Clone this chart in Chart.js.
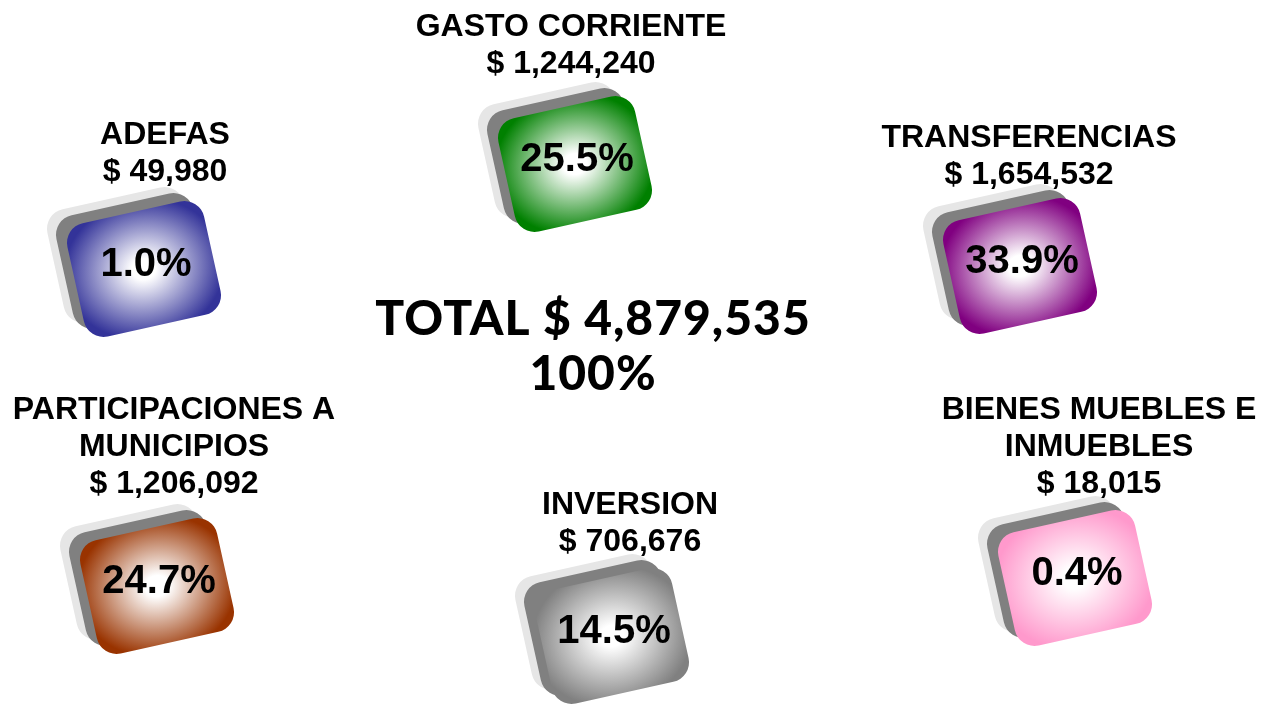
<!DOCTYPE html>
<html>
<head>
<meta charset="utf-8">
<script src="https://cdn.jsdelivr.net/npm/chart.js@4.4.0/dist/chart.umd.min.js"></script>
<style>
body{margin:0;background:#fff;}
canvas{display:block;}
</style>
</head>
<body>
<canvas id="myChart" width="1274" height="709"></canvas>
<script>
// data
var categories = [["GASTO CORRIENTE"], ["TRANSFERENCIAS"], ["BIENES MUEBLES E", "INMUEBLES"], ["INVERSION"], ["PARTICIPACIONES A", "MUNICIPIOS"], ["ADEFAS"]];
var amounts = [1244240, 1654532, 18015, 706676, 1206092, 49980];
var percents = [25.5, 33.9, 0.4, 14.5, 24.7, 1.0];
var total_amount = 4879535;
var total_percent = 100;

// layout / style
var tile_colors = ["#008000", "#800080", "#ff99cc", "#808080", "#993300", "#333399"];
var tile_x = [575, 1020, 1075, 612, 157, 144];
var tile_y = [164, 266, 578, 636, 586, 269];
var label_x = [571, 1029, 1099, 630, 174, 165];
var label_y = [62, 173, 482, 540, 482, 170];

function money(n){
    return "$ " + n.toLocaleString("en-US");
}

function roundRectPath(ctx, x, y, w, h, r){
    ctx.beginPath();
    ctx.moveTo(x + r, y);
    ctx.lineTo(x + w - r, y);
    ctx.arcTo(x + w, y, x + w, y + r, r);
    ctx.lineTo(x + w, y + h - r);
    ctx.arcTo(x + w, y + h, x + w - r, y + h, r);
    ctx.lineTo(x + r, y + h);
    ctx.arcTo(x, y + h, x, y + h - r, r);
    ctx.lineTo(x, y + r);
    ctx.arcTo(x, y, x + r, y, r);
    ctx.closePath();
}

function makeTile(color){
    var c = document.createElement("canvas");
    c.width = 260;
    c.height = 230;
    var ctx = c.getContext("2d");
    var cx = c.width / 2, cy = c.height / 2;
    var w = 140, h = 116, r = 20;
    var ang = -12.5 * Math.PI / 180;

    var layers = [[-20, -14, "#e6e6e6"], [-11, -8, "#808080"]];
    for(let k=0; k<layers.length; k++){
        ctx.save();
        ctx.translate(cx + layers[k][0], cy + layers[k][1]);
        ctx.rotate(ang);
        roundRectPath(ctx, -w/2, -h/2, w, h, r);
        ctx.fillStyle = layers[k][2];
        ctx.fill();
        ctx.restore();
    }

    ctx.save();
    ctx.translate(cx, cy);
    ctx.rotate(ang);
    roundRectPath(ctx, -w/2, -h/2, w, h, r);
    ctx.scale(1.15, 1);
    var g = ctx.createRadialGradient(0, 0, 0, 0, 0, 70);
    g.addColorStop(0, "#ffffff");
    g.addColorStop(0.15, "#ffffff");
    g.addColorStop(1, color);
    ctx.fillStyle = g;
    ctx.fill();
    ctx.restore();
    return c;
}

var tiles = tile_colors.map(makeTile);
var points = [];
for(let i=0; i<tile_x.length; i++){
    points.push({x: tile_x[i], y: tile_y[i]});
}

var textPlugin = {
    id: "tileText",
    afterDatasetsDraw: function(chart){
        var ctx = chart.ctx;
        var xs = chart.scales.x, ys = chart.scales.y;
        var meta = chart.getDatasetMeta(0);
        ctx.save();
        ctx.fillStyle = "#000";
        ctx.textAlign = "center";
        ctx.textBaseline = "middle";

        for(let i=0; i<meta.data.length; i++){
            var pt = meta.data[i];
            ctx.font = "bold 40px 'Liberation Sans', Arial, sans-serif";
            ctx.fillText(percents[i].toFixed(1) + "%", pt.x + 2, pt.y - 4);

            var lines = categories[i].concat([money(amounts[i])]);
            var lx = xs.getPixelForValue(label_x[i]);
            var ly = ys.getPixelForValue(label_y[i]) + 2;
            ctx.font = "bold 32px 'Liberation Sans', Arial, sans-serif";
            for(let j=0; j<lines.length; j++){
                ctx.fillText(lines[j], lx, ly - (lines.length - 1 - j) * 37);
            }
        }

        ctx.font = "900 48px Lato, 'DejaVu Sans', sans-serif";
        ctx.letterSpacing = "1px";
        var tx = xs.getPixelForValue(593);
        ctx.fillText("TOTAL " + money(total_amount), tx, ys.getPixelForValue(320));
        ctx.fillText(total_percent + "%", tx, ys.getPixelForValue(375));
        ctx.restore();
    }
};

var chart = new Chart("myChart", {
    type: "scatter",
    data: {
        labels: categories.map(function(c){ return c.join(" "); }),
        datasets: [{
            data: points,
            pointStyle: tiles,
            pointRadius: 10,
            clip: false
        }]
    },
    options: {
        responsive: false,
        animation: false,
        layout: {padding: 0, autoPadding: false},
        plugins: {legend: {display: false}, tooltip: {enabled: false}},
        scales: {
            x: {type: "linear", min: 0, max: 1274, display: false},
            y: {type: "linear", min: 0, max: 709, reverse: true, display: false}
        }
    },
    plugins: [textPlugin]
});
</script>
</body>
</html>
